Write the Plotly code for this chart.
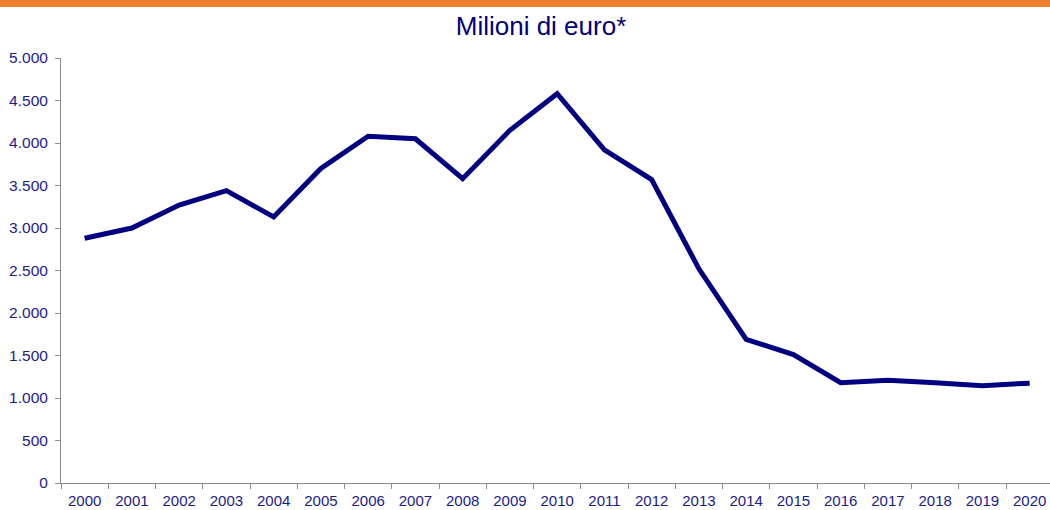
import plotly.graph_objects as go

years = [str(y) for y in range(2000, 2021)]
values = [2880, 3000, 3270, 3440, 3130, 3700, 4080, 4050, 3580, 4150, 4580,
          3920, 3570, 2520, 1690, 1510, 1180, 1210, 1180, 1145, 1175]
y_ticks = [0, 500, 1000, 1500, 2000, 2500, 3000, 3500, 4000, 4500, 5000]
y_tick_labels = ["0", "500", "1.000", "1.500", "2.000", "2.500", "3.000",
                 "3.500", "4.000", "4.500", "5.000"]

text_color = "#1b1b8a"
axis_color = "#8c8c8c"

fig = go.Figure()
fig.add_trace(go.Scatter(
    x=years, y=values, mode="lines",
    line=dict(color="#000080", width=5),
    hoverinfo="x+y",
))

fig.update_layout(
    width=1050, height=510,
    margin=dict(l=61, r=0, t=58, b=27),
    paper_bgcolor="white", plot_bgcolor="white",
    showlegend=False,
    font=dict(family="Liberation Sans, Arial, sans-serif", color=text_color, size=15.5),
    title=dict(text="Milioni di euro*", x=541 / 1050, xanchor="center",
               y=1 - 26 / 510, yanchor="middle",
               font=dict(size=26, color="#000080")),
    xaxis=dict(type="category", range=[-0.5, 20.43], automargin=False,
               showgrid=False, showline=True, linecolor=axis_color, linewidth=1,
               ticks="outside", tickson="boundaries", ticklen=5,
               ticklabelstandoff=4,
               tickcolor=axis_color, tickfont=dict(size=15, color=text_color)),
    yaxis=dict(range=[0, 5000], tickvals=y_ticks, ticktext=y_tick_labels,
               automargin=False,
               showgrid=False, zeroline=False, showline=True,
               linecolor=axis_color, linewidth=1,
               ticks="outside", ticklen=5, tickcolor=axis_color,
               ticklabelstandoff=4,
               tickfont=dict(size=15.5, color=text_color)),
    shapes=[dict(type="rect", xref="paper", yref="paper",
                 x0=-61 / 989, x1=1.0, y0=1 + 51 / 425, y1=1 + 58 / 425,
                 fillcolor="#ED7D31", line=dict(width=0), layer="above")],
)

fig.write_html("out.html", config={"displayModeBar": False},
               post_script="document.body.style.margin='0';")
